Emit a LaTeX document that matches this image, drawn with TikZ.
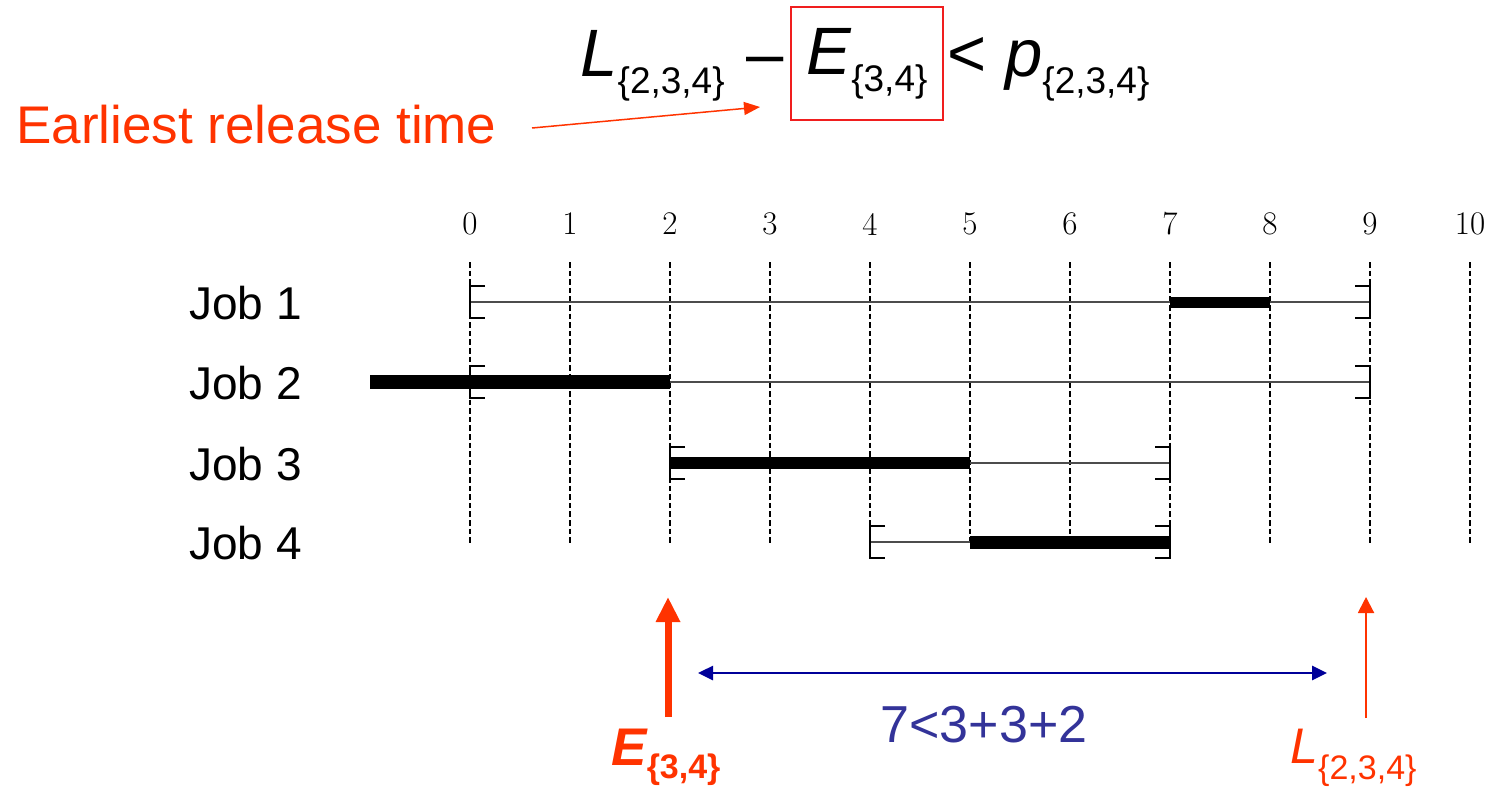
\documentclass[tikz,border=0pt]{standalone}
\usepackage{fontspec}
\newfontfamily\arialfont{Liberation Sans}
\usetikzlibrary{arrows.meta, positioning}
\definecolor{hotred}{RGB}{255,51,0}
\definecolor{boxred}{RGB}{240,30,30}
\definecolor{navyline}{RGB}{0,0,153}
\definecolor{slateblue}{RGB}{51,51,153}
\newcommand{\setsub}[3]{\raisebox{-#1}{\upshape\fontsize{#2}{#2}\selectfont\{#3\}}}

\begin{document}
\begin{tikzpicture}[x=0.5pt, y=-0.5pt,
		formula/.style={anchor=base west, inner sep=0pt, font=\arialfont\fontsize{33.5}{40}\selectfont},
		ticklabel/.style={font=\fontsize{16.5}{18}\selectfont},
		joblabel/.style={anchor=base west, inner sep=0pt, font=\arialfont\fontsize{23}{26}\selectfont},
		gridline/.style={dash pattern=on 2.8pt off 1.5pt, line width=0.75pt},
		window/.style={draw=black!70, line width=1.2pt},
		bracket/.style={line width=1pt},
		redlabel/.style={anchor=base west, inner sep=0pt, text=hotred},
		span/.style={navyline, line width=1.3pt, {Triangle[width=7pt,length=7.5pt]}-{Triangle[width=7pt,length=7.5pt]}}
	]
	\useasboundingbox (0,0) rectangle (1491,787);

	% 1. Formula with the boxed term
	\node[formula] (lhs) at (580,76) {\itshape L\setsub{8.5pt}{18.5}{2,3,4}};
	\node[formula] (minus) at (746,76) {–};
	\node[draw=boxred, line width=0.75pt, minimum width=76pt, minimum height=56.5pt, inner sep=0pt,
		font=\arialfont\fontsize{33.5}{40}\selectfont] (eset) at (867,63.5) {\itshape E\setsub{8.5pt}{18.5}{3,4}};
	\node[formula] (rhs) at (947,76) {< \itshape p\setsub{8.5pt}{18.5}{2,3,4}};

	% Red note pointing at the box
	\node[redlabel, font=\arialfont\fontsize{26.5}{30}\selectfont] (release) at (16,143) {Earliest release time};
	\coordinate (reltail) at (532,128);
	\coordinate (reltip) at (760,107);
	\draw[hotred, line width=0.75pt, -{Triangle[width=6.5pt,length=8pt]}] (reltail) -- (reltip);

	% 2. Time axis with dashed grid
	\foreach \t in {0,...,10} {
		\node[ticklabel] (tick\t) at (470+100*\t,224) {\t};
		\draw[gridline] (470+100*\t,262) -- (470+100*\t,543);
	}

	% 3. Jobs: window, brackets and processing bar
	\foreach \y/\rel/\dl/\bs/\be/\bh [count=\j] in {302/0/9/7/8/11, 382/0/9/-1/2/14, 463/2/7/2/5/12, 542/4/7/5/7/13} {
		\node[joblabel] (job\j) at (189,\y+17) {Job \j};
		\draw[window] (470+100*\rel,\y) -- (470+100*\dl,\y);
		\fill (470+100*\bs,\y-\bh/2) rectangle (470+100*\be,\y+\bh/2);
		\draw[bracket] (470+100*\rel+15,\y-16) -- ++(-15,0) -- ++(0,32) -- ++(15,0);
		\draw[bracket] (470+100*\dl-15,\y-16) -- ++(15,0) -- ++(0,32) -- ++(-15,0);
	}

	% 4. Markers below the axis
	\coordinate (etail) at (668,717);
	\coordinate (etip) at (668,597);
	\draw[hotred, line width=3.5pt, -{Triangle[width=11.5pt,length=12.5pt]}] (etail) -- (etip);
	\node[redlabel, font=\arialfont\bfseries\itshape\fontsize{26.5}{30}\selectfont] (elabel) at (611,765) {E\setsub{6.5pt}{17}{3,4}};

	\coordinate (ltail) at (1366,718);
	\coordinate (ltip) at (1366,597);
	\draw[hotred, line width=1pt, -{Triangle[width=8pt,length=8pt]}] (ltail) -- (ltip);
	\node[redlabel, font=\arialfont\itshape\fontsize{25}{30}\selectfont] (llabel) at (1290,763) {L\setsub{8pt}{17}{2,3,4}};

	\coordinate (spanleft) at (698,673);
	\coordinate (spanright) at (1327,673);
	\draw[span] (spanleft) -- (spanright);
	\node[anchor=base, text=slateblue, font=\arialfont\fontsize{26}{30}\selectfont] (spanlabel) at (984,742) {7<3+3+2};

\end{tikzpicture}
\end{document}
